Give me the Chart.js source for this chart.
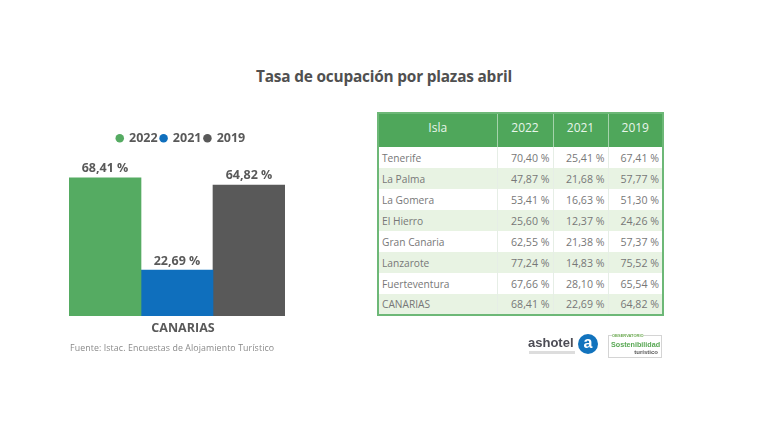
<!DOCTYPE html>
<html lang="es">
<head>
<meta charset="utf-8">
<script src="https://cdn.jsdelivr.net/npm/chart.js@4"></script>
<style>
html,body{margin:0;padding:0;background:#fff;width:768px;height:432px;overflow:hidden;font-family:"Open Sans",sans-serif}
#wrap{position:absolute;left:0;top:0;width:370px;height:432px}
.abs{position:absolute;white-space:nowrap}
#title{left:0;width:768px;top:66px;text-align:center;font-size:15.4px;font-weight:700;color:#505050;letter-spacing:-.2px}
#src{left:70px;top:342px;font-size:8.8px;color:#8a8a8a;letter-spacing:.1px}
table{position:absolute;left:377px;top:112px;width:285px;height:204px;border-collapse:collapse;table-layout:fixed;border:2px solid #6db877;font-size:10.6px;color:#777}
th{background:#4fa75b;color:#e8f5ea;font-weight:400;font-size:12px;height:34px;box-sizing:border-box;padding:0 0 7px;border-left:1px solid #a5d3ac;text-align:center}
th:first-child{border-left:0}
td{height:21px;padding:0 3px 0 3px;text-align:right;border-left:1px solid #e6eee6;box-sizing:border-box;line-height:12px}
td:first-child{text-align:left;border-left:0;font-size:10.2px}
tr:nth-child(odd):not(:first-child) td{background:#e8f3e3}
#ash{left:528px;top:335px;font-size:13px;font-weight:700;color:#4c4c55;font-family:"Liberation Sans",sans-serif}
#ashsub{left:529px;top:351px;width:46px;height:3px;background:#dddddd}
#ashc{left:578px;top:334px;width:20px;height:20px;border-radius:50%;background:#1273bd;color:#fff;font:700 16px/18px "Liberation Sans",sans-serif;text-align:center}
#obs{left:608px;top:335px;width:52px;height:21px;border:1px solid #d4d4d4;font-family:"Liberation Sans",sans-serif}
#obs1{left:3px;top:-2px;font-size:4px;line-height:4px;color:#6aa84f;font-weight:700;background:#fff}
#obs2{left:2px;top:4px;font-size:7.2px;color:#58a854;font-weight:700}
#obs3{right:3px;top:13px;font-size:6px;color:#555;font-weight:700}
</style>
</head>
<body>
<div class="abs" id="title">Tasa de ocupación por plazas abril</div>
<div id="wrap"><canvas id="c" width="370" height="432"></canvas></div>
<div class="abs" id="src">Fuente: Istac. Encuestas de Alojamiento Turístico</div>
<table id="t"></table>
<div class="abs" id="ash">ashotel</div><div class="abs" id="ashsub"></div><div class="abs" id="ashc">a</div>
<div class="abs" id="obs"><div class="abs" id="obs1">OBSERVATORIO</div><div class="abs" id="obs2">Sostenibilidad</div><div class="abs" id="obs3">turístico</div></div>
<script>
const categories = ["CANARIAS"];
const years = ["2022", "2021", "2019"];
const values2022 = [68.41];
const values2021 = [22.69];
const values2019 = [64.82];
const colors = ["#55ab62", "#0f6fbd", "#595959"];

const tableHead = ["Isla", "2022", "2021", "2019"];
const islands = ["Tenerife","La Palma","La Gomera","El Hierro","Gran Canaria","Lanzarote","Fuerteventura","CANARIAS"];
const col2022 = ["70,40 %","47,87 %","53,41 %","25,60 %","62,55 %","77,24 %","67,66 %","68,41 %"];
const col2021 = ["25,41 %","21,68 %","16,63 %","12,37 %","21,38 %","14,83 %","28,10 %","22,69 %"];
const col2019 = ["67,41 %","57,77 %","51,30 %","24,26 %","57,37 %","75,52 %","65,54 %","64,82 %"];

const widths = [119, 56, 55, 55];
let html = "<colgroup>" + widths.map(w => `<col style="width:${w}px">`).join("") + "</colgroup>";
html += "<tr>" + tableHead.map(h => `<th>${h}</th>`).join("") + "</tr>";
islands.forEach((n, i) => {
  html += `<tr><td>${n}</td><td>${col2022[i]}</td><td>${col2021[i]}</td><td>${col2019[i]}</td></tr>`;
});
document.getElementById("t").innerHTML = html;

const valueLabels = {
  id: "valueLabels",
  afterDatasetsDraw(chart) {
    const ctx = chart.ctx;
    ctx.save();
    ctx.font = "700 12.5px 'Open Sans'";
    ctx.fillStyle = "#595959";
    ctx.textAlign = "center";
    ctx.textBaseline = "bottom";
    chart.data.datasets.forEach((ds, i) => {
      chart.getDatasetMeta(i).data.forEach((bar, j) => {
        ctx.fillText(ds.data[j].toFixed(2).replace(".", ",") + " %", bar.x, bar.y - 3);
      });
    });
    ctx.restore();
  }
};
const legendShift = {
  id: "legendShift",
  afterLayout(chart) {
    chart.legend.left += 4;
    chart.legend.right += 4;
  }
};

new Chart(document.getElementById("c"), {
  type: "bar",
  plugins: [valueLabels, legendShift],
  data: {
    labels: categories,
    datasets: [
      { label: years[0], data: values2022, backgroundColor: colors[0] },
      { label: years[1], data: values2021, backgroundColor: colors[1] },
      { label: years[2], data: values2019, backgroundColor: colors[2] }
    ]
  },
  options: {
    responsive: false,
    animation: false,
    devicePixelRatio: 1,
    layout: { padding: { left: 69, right: 85, top: 129, bottom: 91 } },
    datasets: { bar: { barPercentage: 1, categoryPercentage: 1 } },
    plugins: {
      tooltip: { enabled: false },
      title: { display: false },
      legend: {
        display: true,
        position: "top",
        fullSize: false,
        labels: {
          usePointStyle: true,
          pointStyle: "circle",
          boxWidth: 6,
          boxHeight: 6,
          padding: 3,
          color: "#595959",
          font: { family: "'Open Sans'", size: 12.5, weight: "700" }
        }
      }
    },
    scales: {
      x: {
        grid: { display: false, drawTicks: false },
        border: { display: false },
        ticks: { color: "#595959", padding: 5, labelOffset: 6, font: { family: "'Open Sans'", size: 12.5, weight: "700" } }
      },
      y: { display: false, min: 0, max: 80 }
    }
  }
});
</script>
</body>
</html>
